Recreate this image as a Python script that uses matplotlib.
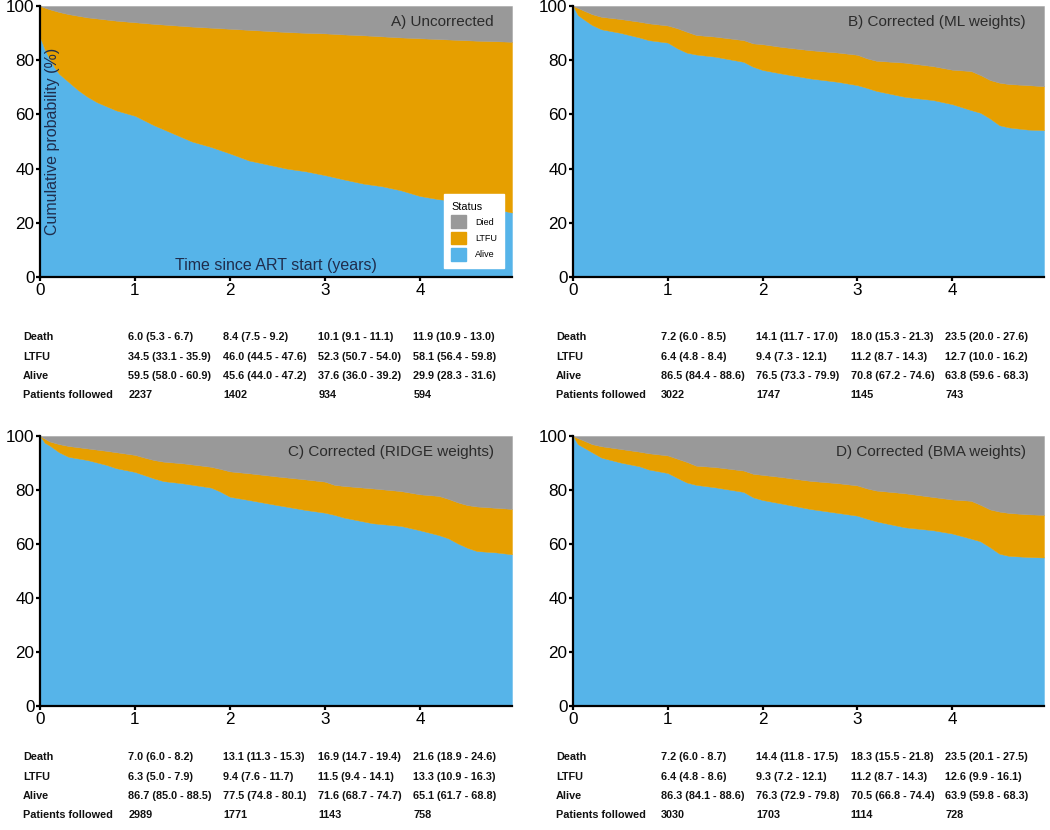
import matplotlib
matplotlib.use("Agg")
import matplotlib.pyplot as plt
from matplotlib.patches import Patch
from matplotlib import transforms

plt.rcParams['font.family'] = ['Liberation Sans', 'DejaVu Sans']

# colours (died / LTFU / alive)
c_died = '#999999'
c_ltfu = '#E69F00'
c_alive = '#56B4E9'

# ---- data (cumulative %, years since ART start) ----
t_a = [0, 0.05, 0.1, 0.15, 0.2, 0.3, 0.4, 0.5, 0.6, 0.7, 0.8, 0.9, 1.0, 1.2, 1.4, 1.6,
       1.8, 2.0, 2.2, 2.4, 2.6, 2.8, 3.0, 3.2, 3.4, 3.6, 3.8, 4.0, 4.2, 4.4, 4.6, 4.8, 4.97]
alive_a = [88.5, 84, 80.5, 77.5, 75, 72, 69, 66.5, 64.5, 63, 61.5, 60.5, 59.5, 56, 53, 50,
           48, 45.6, 43, 41.5, 40, 39, 37.6, 36, 34.5, 33.5, 32, 29.9, 28.7, 28, 26.5, 25, 23.8]
died_a = [0, 0.6, 1.2, 1.7, 2.2, 3.0, 3.6, 4.2, 4.6, 5.0, 5.4, 5.7, 6.0, 6.6, 7.1, 7.6,
          8.0, 8.4, 8.8, 9.2, 9.6, 9.9, 10.1, 10.5, 10.8, 11.2, 11.6, 11.9, 12.2, 12.5, 12.8, 13.0, 13.2]

t_w = [0, 0.05, 0.1, 0.2, 0.3, 0.5, 0.7, 0.8, 1.0, 1.1, 1.2, 1.3, 1.5, 1.8, 1.9, 2.0,
       2.2, 2.5, 2.8, 3.0, 3.1, 3.2, 3.5, 3.8, 4.0, 4.2, 4.3, 4.4, 4.5, 4.6, 4.8, 4.97]
alive_b = [100, 96.7, 95.4, 93, 91.4, 90.1, 88.4, 87.4, 86.5, 84.4, 82.8, 82.1, 81.3, 79.4, 77.6, 76.4,
           75.1, 73.3, 72.0, 70.8, 69.8, 68.7, 66.5, 65.3, 63.8, 61.6, 60.6, 58.5, 56, 55.2, 54.4, 54.2]
died_b = [0, 0.7, 1.5, 3.0, 4.0, 4.8, 5.8, 6.4, 7.2, 8.2, 9.5, 10.7, 11.3, 12.6, 13.8, 14.1,
          15.1, 16.3, 17.2, 18.0, 19.3, 20.2, 20.9, 22.2, 23.5, 24.0, 25.5, 27.3, 28.3, 28.8, 29.2, 29.6]
alive_c = [100, 97.5, 96.5, 94, 92.3, 91.1, 89.3, 88.1, 86.7, 85.5, 84.3, 83.3, 82.5, 80.9, 79.4, 77.5,
           76.3, 74.4, 72.6, 71.6, 70.8, 69.8, 67.7, 66.7, 65.1, 63.3, 62.1, 60.2, 58.6, 57.4, 56.9, 56.2]
died_c = [0, 1.0, 2.0, 3.0, 3.7, 4.6, 5.5, 6.0, 7.0, 8.0, 8.9, 9.5, 10.1, 11.4, 12.2, 13.1,
          13.8, 15.0, 16.1, 16.9, 18.1, 18.5, 19.4, 20.4, 21.6, 22.2, 23.3, 24.6, 25.6, 26.1, 26.6, 27.0]
alive_d = [100, 97, 96, 94, 92, 90.2, 88.8, 87.6, 86.3, 84.5, 82.8, 81.9, 81.0, 79.3, 77.3, 76.3,
           75.0, 73.0, 71.5, 70.5, 69.4, 68.4, 66.2, 65.1, 63.9, 62.0, 61.0, 58.8, 56.4, 55.6, 55.2, 55.0]
died_d = [0, 0.8, 1.5, 3.0, 3.8, 4.8, 5.8, 6.4, 7.2, 8.4, 9.6, 11.0, 11.5, 12.8, 14.0, 14.4,
          15.2, 16.6, 17.5, 18.3, 19.4, 20.2, 21.2, 22.6, 23.5, 24.0, 25.5, 27.2, 28.0, 28.5, 29.0, 29.2]

titles = ['A) Uncorrected', 'B) Corrected (ML weights)',
          'C) Corrected (RIDGE weights)', 'D) Corrected (BMA weights)']

# ---- tables under each panel ----
row_labels = ['Death', 'LTFU', 'Alive', 'Patients followed']
tab_a = [['6.0 (5.3 - 6.7)', '8.4 (7.5 - 9.2)', '10.1 (9.1 - 11.1)', '11.9 (10.9 - 13.0)'],
         ['34.5 (33.1 - 35.9)', '46.0 (44.5 - 47.6)', '52.3 (50.7 - 54.0)', '58.1 (56.4 - 59.8)'],
         ['59.5 (58.0 - 60.9)', '45.6 (44.0 - 47.2)', '37.6 (36.0 - 39.2)', '29.9 (28.3 - 31.6)'],
         ['2237', '1402', '934', '594']]
tab_b = [['7.2 (6.0 - 8.5)', '14.1 (11.7 - 17.0)', '18.0 (15.3 - 21.3)', '23.5 (20.0 - 27.6)'],
         ['6.4 (4.8 - 8.4)', '9.4 (7.3 - 12.1)', '11.2 (8.7 - 14.3)', '12.7 (10.0 - 16.2)'],
         ['86.5 (84.4 - 88.6)', '76.5 (73.3 - 79.9)', '70.8 (67.2 - 74.6)', '63.8 (59.6 - 68.3)'],
         ['3022', '1747', '1145', '743']]
tab_c = [['7.0 (6.0 - 8.2)', '13.1 (11.3 - 15.3)', '16.9 (14.7 - 19.4)', '21.6 (18.9 - 24.6)'],
         ['6.3 (5.0 - 7.9)', '9.4 (7.6 - 11.7)', '11.5 (9.4 - 14.1)', '13.3 (10.9 - 16.3)'],
         ['86.7 (85.0 - 88.5)', '77.5 (74.8 - 80.1)', '71.6 (68.7 - 74.7)', '65.1 (61.7 - 68.8)'],
         ['2989', '1771', '1143', '758']]
tab_d = [['7.2 (6.0 - 8.7)', '14.4 (11.8 - 17.5)', '18.3 (15.5 - 21.8)', '23.5 (20.1 - 27.5)'],
         ['6.4 (4.8 - 8.6)', '9.3 (7.2 - 12.1)', '11.2 (8.7 - 14.3)', '12.6 (9.9 - 16.1)'],
         ['86.3 (84.1 - 88.6)', '76.3 (72.9 - 79.8)', '70.5 (66.8 - 74.4)', '63.9 (59.8 - 68.3)'],
         ['3030', '1703', '1114', '728']]
tab_years = [1, 2, 3, 4]

W, H = 1050, 830
fig = plt.figure(figsize=(10.5, 8.3), dpi=100)

# panel boxes in pixels: left, top, right, bottom
boxes = [(40, 6, 512, 277), (573, 6, 1044, 277), (40, 436, 512, 706), (573, 436, 1044, 706)]
row_px = [[337, 357, 376, 395], [337, 357, 376, 395], [757, 777, 796, 815], [757, 777, 796, 815]]

panels = [(t_a, alive_a, died_a, tab_a), (t_w, alive_b, died_b, tab_b),
          (t_w, alive_c, died_c, tab_c), (t_w, alive_d, died_d, tab_d)]

for i, (t, alive, died, tab) in enumerate(panels):
    l, tp, r, b = boxes[i]
    ax = fig.add_axes([l / W, 1 - b / H, (r - l) / W, (b - tp) / H])
    top = [100 - d for d in died]
    ax.fill_between(t, 0, alive, color=c_alive, lw=0.3, edgecolor=c_alive)
    ax.fill_between(t, alive, top, color=c_ltfu, lw=0.3, edgecolor=c_ltfu)
    ax.fill_between(t, top, 100, color=c_died, lw=0.3, edgecolor=c_died)
    ax.set_xlim(0, 4.97)
    ax.set_ylim(0, 100)
    ax.set_xticks([0, 1, 2, 3, 4])
    ax.set_yticks([0, 20, 40, 60, 80, 100])
    for s in ['top', 'right']:
        ax.spines[s].set_visible(False)
    for s in ['left', 'bottom']:
        ax.spines[s].set_linewidth(1.6)
    ax.tick_params(length=3, width=1.6, labelsize=12.3, pad=1, colors='black')
    ax.text(0.962, 0.94, titles[i], transform=ax.transAxes, ha='right', va='center',
            fontsize=11, color='#2b2b2b')

    if i == 0:
        ax.text(0.027, 0.5, 'Cumulative probability (%)', transform=ax.transAxes, rotation=90,
                ha='center', va='center', fontsize=11.5, color='#1f2d4d')
        ax.text(0.5, 0.044, 'Time since ART start (years)', transform=ax.transAxes,
                ha='center', va='center', fontsize=11.5, color='#1f2d4d')
        handles = [Patch(color=c_died, label='Died'), Patch(color=c_ltfu, label='LTFU'),
                   Patch(color=c_alive, label='Alive')]
        leg = ax.legend(handles=handles, title='Status', loc='lower right',
                        bbox_to_anchor=(0.983, 0.033), borderaxespad=0,
                        fontsize=6.5, title_fontsize=7.8,
                        frameon=True, fancybox=False, edgecolor='white', framealpha=1,
                        handlelength=1.6, handleheight=1.8, handletextpad=1.0,
                        labelspacing=0.4, borderpad=0.8)
        leg._legend_box.align = 'left'

    trans = transforms.blended_transform_factory(ax.transData, fig.transFigure)
    for j, lab in enumerate(row_labels):
        y = 1 - row_px[i][j] / H
        ax.text(-0.18, y, lab, transform=trans, ha='left', va='center',
                fontsize=7.8, fontweight='bold', color='#111111', clip_on=False)
        for k, yr in enumerate(tab_years):
            ax.text(yr - 0.07, y, tab[j][k], transform=trans, ha='left', va='center',
                    fontsize=7.8, fontweight='bold', color='#111111', clip_on=False)

fig.savefig('out.png', dpi=100)
